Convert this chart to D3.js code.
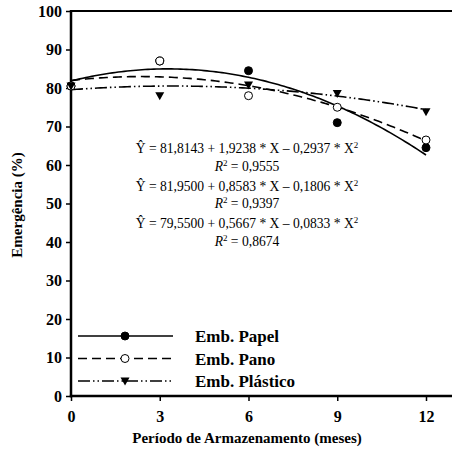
<!DOCTYPE html>
<html>
<head>
<meta charset="utf-8">
<script src="https://cdn.jsdelivr.net/npm/d3@7"></script>
<style>
  body { margin: 0; background: #fff; }
</style>
</head>
<body>
<div id="chart"></div>
<script>
// meses de armazenamento
const meses = [0, 3, 6, 9, 12];
const xTicks = [0, 3, 6, 9, 12];
const yTicks = [0, 10, 20, 30, 40, 50, 60, 70, 80, 90, 100];

// emergência (%) observada
const papel = [80.5, 87, 84.5, 71, 64.5];
const pano = [80.5, 87, 78, 75, 66.5];
const plastico = [80.5, 78, 80.8, 78.6, 73.8];

// coeficientes das regressões (b0, b1, b2)
const coefPapel = [81.8143, 1.9238, -0.2937];
const coefPano = [81.95, 0.8583, -0.1806];
const coefPlastico = [79.55, 0.5667, -0.0833];

const equacoes = [
  ['81,8143', '1,9238', '0,2937', '0,9555'],
  ['81,9500', '0,8583', '0,1806', '0,9397'],
  ['79,5500', '0,5667', '0,0833', '0,8674']
];

const FONT = '"Liberation Serif", "DejaVu Serif", serif';
const width = 453, height = 457;
const svg = d3.select('#chart').append('svg').attr('width', width).attr('height', height)
  .style('display', 'block').attr('font-family', FONT);

const x = d3.scaleLinear().domain([0, 12]).range([71, 426]);
const y = d3.scaleLinear().domain([0, 100]).range([396, 11]);

// borda superior
svg.append('line').attr('x1', x(0)).attr('x2', 452).attr('y1', y(100)).attr('y2', y(100))
  .attr('stroke', '#000').attr('stroke-width', 2);

const yAxis = svg.append('g').attr('transform', `translate(${x(0)},0)`)
  .call(d3.axisLeft(y).tickValues(yTicks).tickSize(5).tickSizeOuter(0).tickPadding(4));
const xAxis = svg.append('g').attr('transform', `translate(0,${y(0)})`)
  .call(d3.axisBottom(x).tickValues(xTicks).tickSize(5).tickSizeOuter(0).tickPadding(10));
[xAxis, yAxis].forEach(a => {
  a.attr('font-family', FONT).attr('font-size', 16).attr('font-weight', 'bold');
  a.select('.domain').remove();
  a.selectAll('.tick line').attr('stroke-width', 1.5);
});

svg.append('line').attr('x1', x(0)).attr('x2', x(0)).attr('y1', y(100) - 1).attr('y2', y(0) + 1.2)
  .attr('stroke', '#000').attr('stroke-width', 2.5);
svg.append('line').attr('x1', x(0) - 1.2).attr('x2', 452).attr('y1', y(0)).attr('y2', y(0))
  .attr('stroke', '#000').attr('stroke-width', 2.5);

svg.append('text').attr('x', 247).attr('y', 443).attr('text-anchor', 'middle')
  .attr('font-weight', 'bold').attr('font-size', 15).text('Período de Armazenamento (meses)');
svg.append('text').attr('transform', 'rotate(-90)').attr('x', -205).attr('y', 22)
  .attr('text-anchor', 'middle').attr('font-weight', 'bold').attr('font-size', 15).text('Emergência (%)');

const series = [
  { vals: papel, coef: coefPapel, dash: null, mark: 'filled', nome: 'Emb. Papel' },
  { vals: pano, coef: coefPano, dash: '9,5', mark: 'open', nome: 'Emb. Pano' },
  { vals: plastico, coef: coefPlastico, dash: '12,3,1.5,3,1.5,3', mark: 'tri', nome: 'Emb. Plástico' }
];

const line = d3.line().x(d => x(d[0])).y(d => y(d[1]));
const xs = d3.range(0, 12.01, 0.1);

function drawMark(g, cx, cy, type) {
  if (type === 'tri') {
    g.append('path').attr('d', `M${cx - 4.5},${cy - 3.5} L${cx + 4.5},${cy - 3.5} L${cx},${cy + 4.5} Z`).attr('fill', '#000');
  } else {
    g.append('circle').attr('cx', cx).attr('cy', cy).attr('r', 4)
      .attr('fill', type === 'filled' ? '#000' : '#fff').attr('stroke', '#000').attr('stroke-width', 1);
  }
}

series.forEach(s => {
  svg.append('path')
    .attr('d', line(xs.map(v => [v, s.coef[0] + s.coef[1] * v + s.coef[2] * v * v])))
    .attr('fill', 'none').attr('stroke', '#000').attr('stroke-width', 1.6)
    .attr('stroke-dasharray', s.dash);
});
series.forEach(s => {
  const g = svg.append('g');
  s.vals.forEach((v, i) => drawMark(g, x(meses[i]), y(v), s.mark));
});

// equações
const eq = svg.append('g').attr('font-size', 13.6).attr('text-anchor', 'middle');
equacoes.forEach((e, i) => {
  const y0 = 153 + i * 37.5;
  const t = eq.append('text').attr('x', 247).attr('y', y0);
  t.append('tspan').text(`Ŷ = ${e[0]} + ${e[1]} * X – ${e[2]} * X`);
  t.append('tspan').attr('font-size', 9).attr('dy', -5).text('2');
  const r = eq.append('text').attr('x', 247).attr('y', y0 + 17.5);
  r.append('tspan').attr('font-style', 'italic').text('R');
  r.append('tspan').attr('font-size', 9).attr('dy', -5).text('2');
  r.append('tspan').attr('dy', 5).text(' = ' + e[3]);
});

// legenda
series.forEach((s, i) => {
  const ly = 336 + i * 22.5;
  const g = svg.append('g');
  g.append('line').attr('x1', 78).attr('x2', 173).attr('y1', ly).attr('y2', ly)
    .attr('stroke', '#000').attr('stroke-width', 1.6).attr('stroke-dasharray', s.dash);
  drawMark(g, 125, ly, s.mark);
  g.append('text').attr('x', 195).attr('y', ly + 6).attr('font-weight', 'bold').attr('font-size', 17).text(s.nome);
});
</script>
</body>
</html>
